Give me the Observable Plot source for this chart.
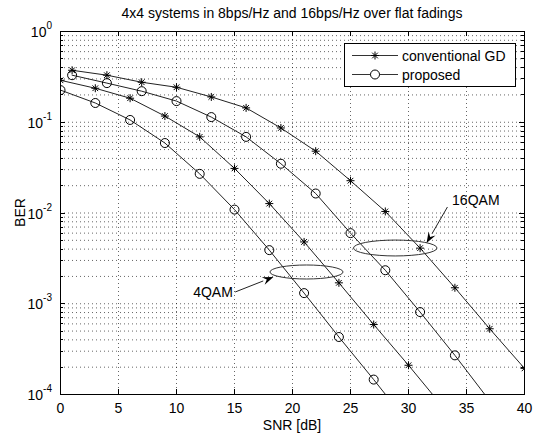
<!DOCTYPE html>
<html><head><meta charset="utf-8">
<script src="https://cdn.jsdelivr.net/npm/d3@7"></script>
<script src="https://cdn.jsdelivr.net/npm/@observablehq/plot@0.6"></script>
<style>
body{margin:0;background:#fff;}
#chart svg{overflow:visible;}
</style></head><body>
<div id="chart"></div>
<script>
// ---- texts ----
const titleText = "4x4 systems in 8bps/Hz and 16bps/Hz over flat fadings";
const xLabel = "SNR [dB]";
const yLabel = "BER";
const xTicks = [0, 5, 10, 15, 20, 25, 30, 35, 40];
const yDecades = [1e-4, 1e-3, 1e-2, 1e-1, 1];
const yExponents = ["-4", "-3", "-2", "-1", "0"];
const legendLabels = ["conventional GD", "proposed"];

// ---- series (SNR in dB, BER) ----
const snr4QAMProposed = [0, 3, 6, 9, 12, 15, 18, 21, 24, 27, 30];
const ber4QAMProposed = [0.226, 0.163, 0.106, 0.059, 0.027, 0.0109, 0.0039, 0.00131, 4.3e-4, 1.46e-4, 4.8e-5];
const snr4QAMConv = [0, 3, 6, 9, 12, 15, 18, 21, 24, 27, 30, 33];
const ber4QAMConv = [0.29, 0.237, 0.184, 0.117, 0.069, 0.031, 0.0127, 0.0048, 0.0017, 5.9e-4, 2.1e-4, 7.2e-5];
const snr16QAMProposed = [1, 4, 7, 10, 13, 16, 19, 22, 25, 28, 31, 34, 37];
const ber16QAMProposed = [0.33, 0.27, 0.22, 0.171, 0.114, 0.069, 0.0349, 0.0164, 0.006, 0.00234, 8.1e-4, 2.7e-4, 8.5e-5];
const snr16QAMConv = [1, 4, 7, 10, 13, 16, 19, 22, 25, 28, 31, 34, 37, 40];
const ber16QAMConv = [0.374, 0.33, 0.276, 0.243, 0.19, 0.144, 0.0865, 0.048, 0.0227, 0.0104, 0.0041, 0.0015, 5.3e-4, 1.94e-4];

// ---- annotations (data coordinates) ----
const annLabels = ["4QAM", "16QAM"];
const annTextX = [14.9, 33.8];
const annTextY = [1.33e-3, 0.0137];
const annTextAnchor = ["end", "start"];
const ellX1 = [18.1, 25.3], ellX2 = [24.4, 32.5];
const ellY1 = [2.64e-3, 4.97e-3], ellY2 = [1.85e-3, 3.32e-3];
const arrX1 = [15.1, 33.4], arrY1 = [1.33e-3, 0.0115];
const arrX2 = [18.4, 31.6], arrY2 = [1.95e-3, 4.6e-3];

// ---- build table ----
const series = [
  {name: "4QAM proposed", kind: "proposed", snr: snr4QAMProposed, ber: ber4QAMProposed},
  {name: "4QAM conventional GD", kind: "conv", snr: snr4QAMConv, ber: ber4QAMConv},
  {name: "16QAM proposed", kind: "proposed", snr: snr16QAMProposed, ber: ber16QAMProposed},
  {name: "16QAM conventional GD", kind: "conv", snr: snr16QAMConv, ber: ber16QAMConv}
];
const rows = series.flatMap(s => s.snr.map((x, i) => ({series: s.name, kind: s.kind, snr: x, ber: s.ber[i]})));

const asterisk = {
  draw(ctx, size) {
    const r = Math.sqrt(size / Math.PI), d = r * Math.SQRT1_2;
    ctx.moveTo(-r, 0); ctx.lineTo(r, 0);
    ctx.moveTo(0, -r); ctx.lineTo(0, r);
    ctx.moveTo(-d, -d); ctx.lineTo(d, d);
    ctx.moveTo(-d, d); ctx.lineTo(d, -d);
  }
};

const yGrid = [];
for (let i = 0; i < yDecades.length - 1; i++) for (let k = 1; k < 10; k++) yGrid.push(k * yDecades[i]);
yGrid.push(1);
const yMinor = yGrid.filter(v => !yDecades.some(d => Math.abs(v / d - 1) < 1e-9));

const FONT = "'Liberation Sans', Arial, Helvetica, sans-serif";
const FS = 14;

function decorations(index, scales, values, dims) {
  const {width, height, marginLeft, marginRight, marginTop, marginBottom} = dims;
  const L = marginLeft, R = width - marginRight, T = marginTop, B = height - marginBottom;
  const g = d3.create("svg:g").attr("font-family", FONT).attr("fill", "#000");
  g.append("text").attr("x", (L + R) / 2).attr("y", 18).attr("text-anchor", "middle")
    .attr("font-size", FS).text(titleText);
  g.append("text").attr("x", (L + R) / 2).attr("y", B + 36).attr("text-anchor", "middle")
    .attr("font-size", FS).text(xLabel);
  g.append("text").attr("transform", `translate(25,${(T + B) / 2}) rotate(-90)`)
    .attr("text-anchor", "middle").attr("font-size", FS).text(yLabel);
  yDecades.forEach((v, i) => {
    const y = scales.y(v);
    const t = g.append("text").attr("x", L - 8).attr("y", y + 6).attr("text-anchor", "end").attr("font-size", FS);
    t.append("tspan").text("10");
    t.append("tspan").attr("dy", -8).attr("font-size", 10).text(yExponents[i]);
  });
  const tk = g.append("g").attr("stroke", "#000").attr("stroke-width", 1);
  xTicks.forEach(v => {
    const x = Math.round(scales.x(v)) + 0.5;
    tk.append("line").attr("x1", x).attr("x2", x).attr("y1", B).attr("y2", B - 5);
    tk.append("line").attr("x1", x).attr("x2", x).attr("y1", T).attr("y2", T + 5);
  });
  yDecades.forEach(v => {
    const y = Math.round(scales.y(v)) + 0.5;
    tk.append("line").attr("x1", L).attr("x2", L + 5).attr("y1", y).attr("y2", y);
    tk.append("line").attr("x1", R).attr("x2", R - 5).attr("y1", y).attr("y2", y);
  });
  yMinor.forEach(v => {
    const y = Math.round(scales.y(v)) + 0.5;
    tk.append("line").attr("x1", L).attr("x2", L + 3).attr("y1", y).attr("y2", y);
    tk.append("line").attr("x1", R).attr("x2", R - 3).attr("y1", y).attr("y2", y);
  });
  return g.node();
}

function annotations(index, scales, values, dims) {
  const g = d3.create("svg:g").attr("font-family", FONT);
  annLabels.forEach((lab, i) => {
    const x1 = scales.x(ellX1[i]), x2 = scales.x(ellX2[i]);
    const y1 = scales.y(ellY1[i]), y2 = scales.y(ellY2[i]);
    g.append("ellipse").attr("cx", (x1 + x2) / 2).attr("cy", (y1 + y2) / 2)
      .attr("rx", Math.abs(x2 - x1) / 2).attr("ry", Math.abs(y2 - y1) / 2)
      .attr("fill", "none").attr("stroke", "#333").attr("stroke-width", 1);
    const ax1 = scales.x(arrX1[i]), ay1 = scales.y(arrY1[i]);
    const ax2 = scales.x(arrX2[i]), ay2 = scales.y(arrY2[i]);
    const ang = Math.atan2(ay2 - ay1, ax2 - ax1), hl = 11, hw = 4;
    const bx = ax2 - hl * Math.cos(ang), by = ay2 - hl * Math.sin(ang);
    g.append("line").attr("x1", ax1).attr("y1", ay1).attr("x2", bx).attr("y2", by)
      .attr("stroke", "#222").attr("stroke-width", 1);
    const px = -Math.sin(ang) * hw, py = Math.cos(ang) * hw;
    g.append("path").attr("d", `M${ax2},${ay2}L${bx + px},${by + py}L${bx + 0.35 * hl * Math.cos(ang)},${by + 0.35 * hl * Math.sin(ang)}L${bx - px},${by - py}Z`)
      .attr("fill", "#000");
    g.append("text").attr("x", scales.x(annTextX[i])).attr("y", scales.y(annTextY[i]) + 5)
      .attr("text-anchor", annTextAnchor[i]).attr("font-size", FS).attr("fill", "#000").text(lab);
  });
  return g.node();
}

function legend(index, scales, values, dims) {
  const R = dims.width - dims.marginRight, T = dims.marginTop;
  const bw = 171, bh = 43, bx = R - 9 - bw, by = T + 12;
  const g = d3.create("svg:g").attr("font-family", FONT).attr("text-anchor", "start");
  g.append("rect").attr("x", bx + 0.5).attr("y", by + 0.5).attr("width", bw).attr("height", bh)
    .attr("fill", "#fff").attr("stroke", "#000").attr("stroke-width", 1);
  legendLabels.forEach((lab, i) => {
    const y = by + 12 + i * 19 + 0.5;
    g.append("line").attr("x1", bx + 8).attr("x2", bx + 54).attr("y1", y).attr("y2", y)
      .attr("stroke", "#333").attr("stroke-width", 1);
    const cx = bx + 31;
    if (i === 0) {
      const p = d3.path(); asterisk.draw(p, Math.PI * 16);
      g.append("path").attr("transform", `translate(${cx},${y})`).attr("d", p.toString())
        .attr("stroke", "#000").attr("fill", "none");
    } else {
      g.append("circle").attr("cx", cx).attr("cy", y).attr("r", 4.5).attr("fill", "#fff").attr("stroke", "#000");
    }
    g.append("text").attr("x", bx + 58).attr("y", y + 5).attr("text-anchor", "start")
      .attr("font-size", FS).attr("fill", "#000").text(lab);
  });
  return g.node();
}

const chart = Plot.plot({
  width: 534,
  height: 433,
  marginTop: 31,
  marginBottom: 39,
  marginLeft: 60,
  marginRight: 10,
  style: {fontFamily: FONT, fontSize: FS + "px", background: "#fff", color: "#000", overflow: "visible"},
  x: {domain: [0, 40], ticks: xTicks, tickSize: 0, tickPadding: 9, label: null, tickFormat: d => String(d)},
  y: {type: "log", domain: [1e-4, 1], axis: null},
  marks: [
    Plot.ruleY(yGrid, {stroke: "#000", strokeOpacity: 0.6, strokeDasharray: "1,3"}),
    Plot.ruleX(xTicks.slice(1, -1), {stroke: "#000", strokeOpacity: 0.6, strokeDasharray: "1,3"}),
    Plot.line(rows, {x: "snr", y: "ber", z: "series", stroke: "#222", strokeWidth: 1, clip: true}),
    Plot.dot(rows.filter(d => d.kind === "proposed"), {x: "snr", y: "ber", r: 4.5, symbol: "circle", stroke: "#000", fill: "none", strokeWidth: 1, clip: true}),
    Plot.dot(rows.filter(d => d.kind === "conv"), {x: "snr", y: "ber", r: 4, symbol: asterisk, stroke: "#000", fill: "none", strokeWidth: 1, clip: true}),
    annotations,
    legend,
    Plot.frame({stroke: "#000", strokeWidth: 1}),
    decorations
  ]
});
document.getElementById("chart").appendChild(chart);
</script>
</body></html>
